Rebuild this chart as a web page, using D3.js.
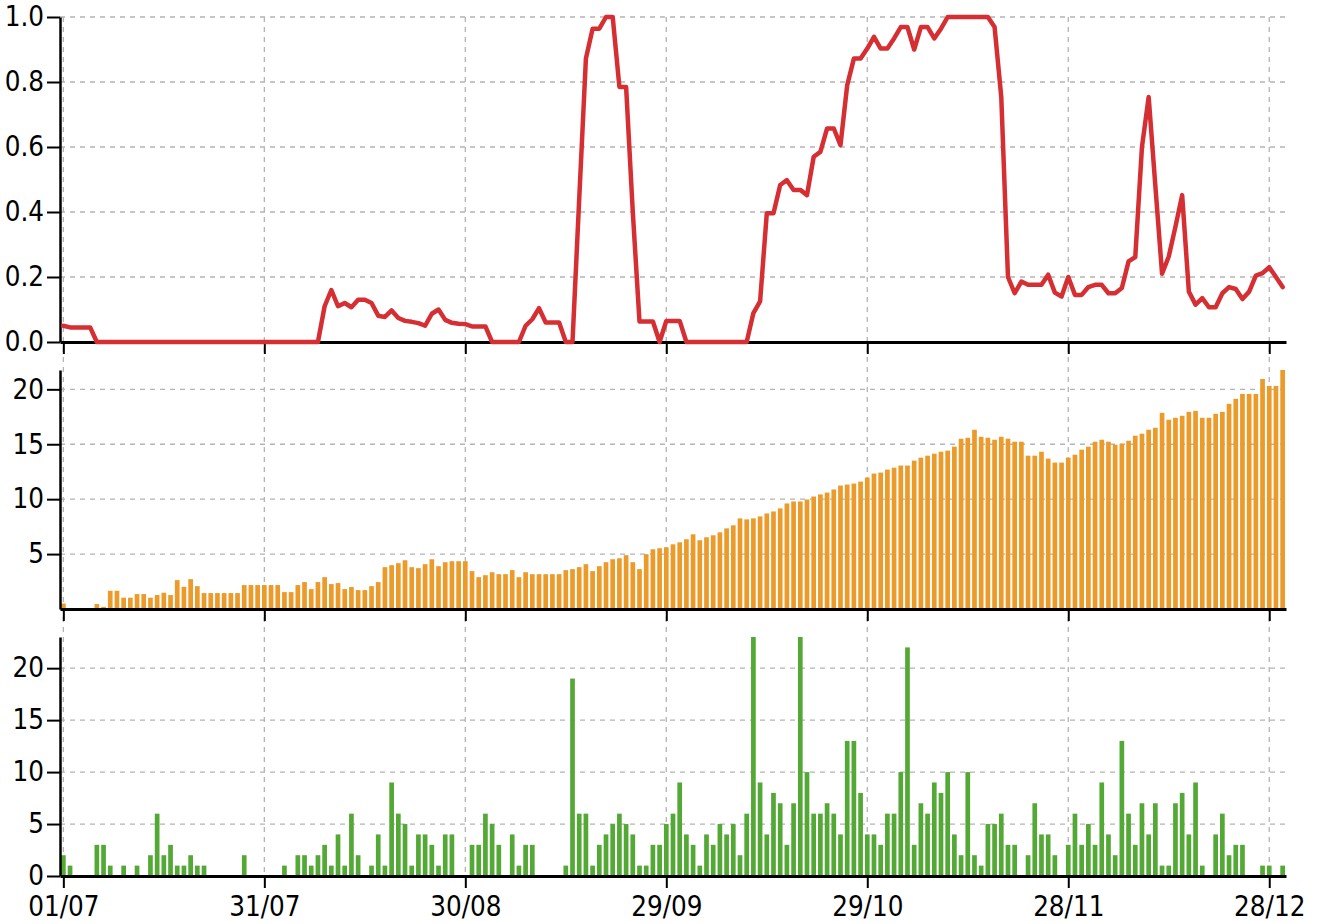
<!DOCTYPE html>
<html>
<head>
<meta charset="utf-8">
<script src="https://cdn.jsdelivr.net/npm/d3@7"></script>
<style>
  html, body { margin: 0; padding: 0; background: #fff; }
  svg text { font-family: "DejaVu Sans Condensed", "DejaVu Sans", sans-serif; font-stretch: condensed; font-size: 27.5px; fill: #000; }
</style>
</head>
<body>
<svg id="chart" width="1322" height="923"></svg>
<script>
// ---------- data ----------
const startDate = "2020-07-01";
const endDate = "2020-12-30";
const tickLabels = ["01/07", "31/07", "30/08", "29/09", "29/10", "28/11", "28/12"];

const ratioValues = [
  0.05, 0.045, 0.045, 0.045, 0.045, 0, 0, 0, 0, 0,
  0, 0, 0, 0, 0, 0, 0, 0, 0, 0,
  0, 0, 0, 0, 0, 0, 0, 0, 0, 0,
  0, 0, 0, 0, 0, 0, 0, 0, 0, 0.11,
  0.16, 0.11, 0.12, 0.107, 0.13, 0.13, 0.12, 0.081, 0.077, 0.097,
  0.074, 0.065, 0.062, 0.058, 0.05, 0.087, 0.10, 0.068, 0.059, 0.056,
  0.055, 0.048, 0.048, 0.048, 0, 0, 0, 0, 0, 0.05,
  0.07, 0.104, 0.06, 0.06, 0.06, 0, 0, 0.44, 0.872, 0.964,
  0.964, 1.0, 1.0, 0.785, 0.785, 0.40, 0.063, 0.063, 0.063, 0,
  0.065, 0.065, 0.065, 0, 0, 0, 0, 0, 0, 0,
  0, 0, 0, 0.089, 0.125, 0.396, 0.396, 0.483, 0.498, 0.468,
  0.468, 0.452, 0.57, 0.585, 0.657, 0.657, 0.606, 0.79, 0.872, 0.872,
  0.903, 0.939, 0.903, 0.903, 0.934, 0.969, 0.969, 0.90, 0.969, 0.969,
  0.934, 0.964, 1.0, 1.0, 1.0, 1.0, 1.0, 1.0, 1.0, 0.969,
  0.754, 0.2, 0.15, 0.186, 0.176, 0.176, 0.176, 0.207, 0.152, 0.14,
  0.2, 0.145, 0.145, 0.169, 0.176, 0.176, 0.15, 0.15, 0.166, 0.248,
  0.261, 0.60, 0.754, 0.48, 0.21, 0.263, 0.355, 0.452, 0.155, 0.115,
  0.135, 0.107, 0.107, 0.15, 0.169, 0.163, 0.132, 0.155, 0.204, 0.212,
  0.23, 0.2, 0.169
];

const averageValues = [
  0.5, 0, 0, 0, 0, 0.45, 0.2, 1.66, 1.66, 1.03,
  1.03, 1.36, 1.36, 1.03, 1.27, 1.48, 1.27, 2.63, 2.02, 2.72,
  2.08, 1.45, 1.45, 1.45, 1.45, 1.45, 1.45, 2.18, 2.18, 2.18,
  2.18, 2.18, 2.18, 1.54, 1.54, 2.18, 2.45, 1.81, 2.45, 2.9,
  2.27, 2.36, 1.81, 2.0, 1.72, 1.72, 2.08, 2.45, 3.81, 3.99,
  4.17, 4.44, 3.81, 3.72, 4.08, 4.53, 3.9, 4.26, 4.35, 4.35,
  4.35, 3.45, 2.9, 3.08, 3.35, 3.17, 3.17, 3.54, 2.9, 3.35,
  3.17, 3.17, 3.17, 3.17, 3.17, 3.54, 3.63, 3.81, 4.08, 3.45,
  3.9, 4.26, 4.53, 4.62, 4.9, 4.26, 3.63, 4.99, 5.44, 5.53,
  5.62, 5.89, 6.07, 6.35, 6.8, 6.26, 6.53, 6.71, 6.98, 7.34,
  7.62, 8.25, 8.16, 8.25, 8.43, 8.7, 8.88, 9.16, 9.61, 9.79,
  9.79, 9.97, 10.24, 10.43, 10.6, 10.88, 11.24, 11.33, 11.42, 11.6,
  11.97, 12.33, 12.42, 12.69, 12.87, 13.06, 13.06, 13.51, 13.78, 13.96,
  14.14, 14.32, 14.42, 14.78, 15.5, 15.59, 16.32, 15.68, 15.59, 15.41,
  15.68, 15.5, 15.23, 15.23, 13.96, 13.96, 14.32, 13.69, 13.33, 13.33,
  13.78, 14.05, 14.51, 14.78, 15.23, 15.41, 15.23, 14.96, 15.05, 15.32,
  15.78, 15.96, 16.32, 16.5, 17.86, 17.23, 17.41, 17.59, 17.95, 18.04,
  17.41, 17.41, 17.77, 17.95, 18.68, 19.13, 19.58, 19.58, 19.58, 20.94,
  20.31, 20.31, 21.76
];

const dailyValues = [
  2, 1, 0, 0, 0, 3, 3, 1, 0, 1,
  0, 1, 0, 2, 6, 2, 3, 1, 1, 2,
  1, 1, 0, 0, 0, 0, 0, 2, 0, 0,
  0, 0, 0, 1, 0, 2, 2, 1, 2, 3,
  1, 4, 1, 6, 2, 0, 1, 4, 1, 9,
  6, 5, 1, 4, 4, 3, 1, 4, 4, 0,
  0, 3, 3, 6, 5, 3, 0, 4, 1, 3,
  3, 0, 0, 0, 0, 1, 19, 6, 6, 1,
  3, 4, 5, 6, 5, 4, 1, 1, 3, 3,
  5, 6, 9, 4, 3, 1, 4, 3, 5, 4,
  5, 2, 6, 23, 9, 4, 8, 7, 3, 7,
  23, 10, 6, 6, 7, 6, 4, 13, 13, 8,
  4, 4, 3, 6, 6, 10, 22, 3, 7, 6,
  9, 8, 10, 4, 2, 10, 2, 1, 5, 5,
  6, 3, 3, 0, 2, 7, 4, 4, 2, 0,
  3, 6, 3, 5, 3, 9, 4, 2, 13, 6,
  3, 7, 4, 7, 1, 1, 7, 8, 4, 9,
  1, 0, 4, 6, 2, 3, 3, 0, 0, 1,
  1, 0, 1
];

const ratioTicks = [0, 0.2, 0.4, 0.6, 0.8, 1.0];
const averageTicks = [5, 10, 15, 20];
const dailyTicks = [0, 5, 10, 15, 20];

// ---------- setup ----------
const svg = d3.select("#chart");
const parse = d3.utcParse("%Y-%m-%d");
const dates = d3.utcDay.range(parse(startDate), d3.utcDay.offset(parse(endDate), 1));
const tickDates = tickLabels.map(s => d3.utcParse("%d/%m/%Y")(s + "/2020"));
const fmt = d3.utcFormat("%d/%m");

const halfDay = 12 * 3600 * 1000;
const x = d3.scaleUtc()
  .domain([new Date(dates[0].getTime() - halfDay), new Date(dates[dates.length - 1].getTime() + halfDay)])
  .range([60, 1286]);
const dayW = x(dates[1]) - x(dates[0]);
const barW = dayW * 0.7;

const panels = [
  { top: 17, bottom: 342 },
  { top: 370, bottom: 609 },
  { top: 637, bottom: 876 }
];

const y1 = d3.scaleLinear().domain([0, 1]).range([panels[0].bottom, panels[0].top]);
const y2 = d3.scaleLinear().domain([0, d3.max(averageValues)]).range([panels[1].bottom, panels[1].top]);
const y3 = d3.scaleLinear().domain([0, d3.max(dailyValues)]).range([panels[2].bottom, panels[2].top]);

const gridColor = "#b4b4b4";
const dash = "5,5";

// vertical grid lines
svg.append("g").selectAll("line").data(tickDates).join("line")
  .attr("x1", d => x(d)).attr("x2", d => x(d))
  .attr("y1", panels[0].top).attr("y2", panels[2].bottom)
  .attr("stroke", gridColor).attr("stroke-width", 1.3).attr("stroke-dasharray", dash);

// horizontal grid lines
function hGrid(y, ticks) {
  svg.append("g").selectAll("line").data(ticks.filter(t => t !== 0)).join("line")
    .attr("x1", 60).attr("x2", 1286)
    .attr("y1", d => y(d)).attr("y2", d => y(d))
    .attr("stroke", gridColor).attr("stroke-width", 1.3).attr("stroke-dasharray", dash);
}
hGrid(y1, ratioTicks);
hGrid(y2, averageTicks);
hGrid(y3, dailyTicks);

// bars
svg.append("g").selectAll("rect").data(averageValues).join("rect")
  .attr("x", (d, i) => x(dates[i]) - barW / 2)
  .attr("width", barW)
  .attr("y", d => y2(d))
  .attr("height", d => y2(0) - y2(d))
  .attr("fill", "#ec9b2a");

svg.append("g").selectAll("rect").data(dailyValues).join("rect")
  .attr("x", (d, i) => x(dates[i]) - barW / 2)
  .attr("width", barW)
  .attr("y", d => y3(d))
  .attr("height", d => y3(0) - y3(d))
  .attr("fill", "#53a836");

// axes
function styleAxis(g, w) {
  g.select(".domain").attr("stroke", "#000").attr("stroke-width", w);
  g.selectAll(".tick line").attr("stroke", "#000").attr("stroke-width", 2);
  g.selectAll("text").attr("font-size", null).attr("font-family", null);
}
function yAxis(y, ticks, format) {
  const g = svg.append("g").attr("transform", "translate(60,0)")
    .call(d3.axisLeft(y).tickValues(ticks).tickFormat(format).tickSize(13).tickSizeOuter(0).tickPadding(3));
  styleAxis(g, 2.5);
}
function xAxis(p, labels) {
  const g = svg.append("g").attr("transform", `translate(0,${p.bottom})`)
    .call(d3.axisBottom(x).tickValues(tickDates).tickFormat(labels ? fmt : "").tickSize(12).tickSizeOuter(0).tickPadding(8));
  styleAxis(g, 3);
}
yAxis(y1, ratioTicks, d3.format(".1f"));
yAxis(y2, averageTicks, d3.format("d"));
yAxis(y3, dailyTicks, d3.format("d"));
xAxis(panels[0], false);
xAxis(panels[1], false);
xAxis(panels[2], true);

// line
const line = d3.line().x((d, i) => x(dates[i])).y(d => y1(d));
svg.append("path").datum(ratioValues)
  .attr("d", line)
  .attr("fill", "none")
  .attr("stroke", "#d62f33")
  .attr("stroke-width", 4.5)
  .attr("stroke-linejoin", "round")
  .attr("stroke-linecap", "round");
</script>
</body>
</html>
